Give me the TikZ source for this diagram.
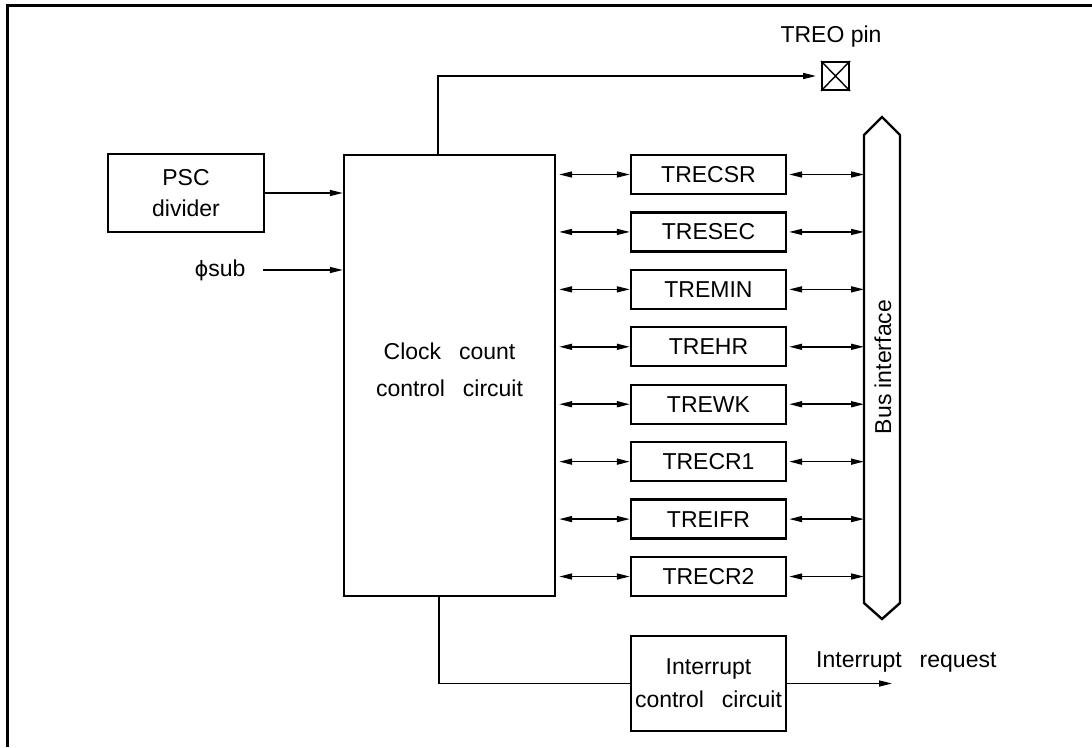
\documentclass[tikz,border=0pt]{standalone}
\usepackage{fontspec}
\setmainfont{Liberation Sans}
\newfontfamily\dejavu{DejaVu Sans}
\usetikzlibrary{arrows.meta,calc}
\begin{document}
\begin{tikzpicture}[x=1pt,y=-1pt,
  txt/.style={font=\fontsize{23}{33}\selectfont},
  box/.style={draw,line width=2.4pt,rectangle,inner sep=0pt,txt,align=center},
  reg/.style={box,minimum width=155pt,minimum height=39pt},
  lbl/.style={txt,inner sep=0pt},
  conn/.style={line width=1.5pt},
  tip/.style={-{Triangle[length=13pt,width=6pt]}},
  bitip/.style={{Triangle[length=13pt,width=6pt]}-{Triangle[length=13pt,width=6pt]}}]
\useasboundingbox (0,0) rectangle (1092,747);
% partial frame
\draw[line width=3pt] (7,747) -- (7,5) -- (1092,5);

% main block
\node[box,minimum width=211pt,minimum height=441pt] (main) at (449.5,375.5) {};
\node[lbl,align=center,font=\fontsize{23}{37}\selectfont] (mainT) at (449.5,370) {Clock\hspace{0.5em} count\\control\hspace{0.5em} circuit};
% PSC
\node[box,minimum width=156pt,minimum height=78pt,font=\fontsize{23}{31}\selectfont] (psc) at (186,193) {PSC\\divider};
\node[lbl] (phi) at (220,270) {{\dejavu\fontsize{21}{21}\selectfont ϕ}sub};
% TREO pin
\node[draw,line width=2pt,minimum width=27pt,minimum height=28pt,inner sep=0pt] (pin) at (835.5,76) {};
\draw[line width=1.4pt] (pin.north west) -- (pin.south east) (pin.south west) -- (pin.north east);
\node[lbl] (treo) at (831,37) {TREO pin};

% bus
\draw[line width=2.4pt] (864,135) -- (882,117) -- (900,135) -- (900,603) -- (882,619) -- (864,603) -- cycle;
\coordinate (busW) at (864,367);
\node[lbl,rotate=90] (bus) at (883,367) {Bus interface};

% registers
\foreach \n/\t [count=\i from 0] in {r0/TRECSR,r1/TRESEC,r2/TREMIN,r3/TREHR,r4/TREWK,r5/TRECR1,r6/TREIFR,r7/TRECR2}{
  \node[reg] (\n) at (708.5,{174.5+\i*57.43}) {\t};
  \draw[conn,bitip] ($(\n.west -| main.east)+(3,0)$) -- (\n.west);
  \draw[conn,bitip] ($(\n.east)+(2,0)$) -- (\n.east -| busW);
}

% inputs
\draw[conn,tip] (psc.east) -- (psc.east -| main.west);
\coordinate (phiE) at (263,270);
\draw[conn,tip] (phiE) -- (phiE -| main.west);

% TREO output
\coordinate (treoS) at (438,155);
\draw[conn,tip,shorten >=5pt] (treoS) |- (pin.west);

% interrupt
\node[box,minimum width=155pt,minimum height=95pt] (intr) at (708.5,683.5) {Interrupt\\control\hspace{0.5em} circuit};
\coordinate (intS) at (439,596);
\draw[conn] (intS) |- (intr.west);
\coordinate (intOut) at (892,683.5);
\draw[conn,tip] (intr.east) -- (intOut);
\node[lbl,anchor=west] (ireq) at (816,662) {Interrupt\hspace{0.5em} request};
\end{tikzpicture}
\end{document}
